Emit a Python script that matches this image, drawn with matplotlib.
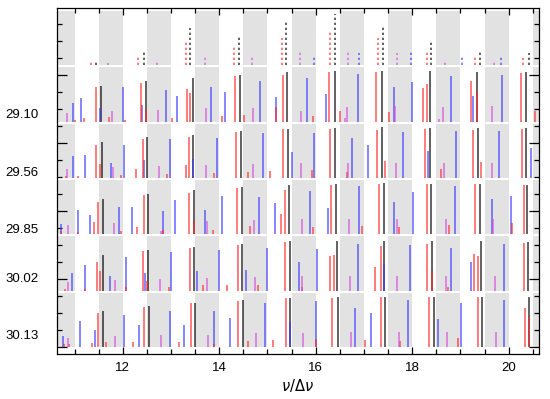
import matplotlib
matplotlib.use("Agg")
import matplotlib.pyplot as plt
import matplotlib.transforms as mtransforms
from matplotlib.ticker import MultipleLocator
import numpy as np

plt.rcParams['font.family'] = ['Liberation Sans', 'DejaVu Sans']
plt.rcParams['mathtext.fontset'] = 'dejavusans'

# row labels, bottom to top (top row is the unlabeled reference spectrum)
row_labels = ['30.13', '30.02', '29.85', '29.56', '29.10', '']
row_step = 56.4
band_height = 54.5

# each row: list of (nu/dnu, height) per colour
black = [
    [(11.60, 36), (12.54, 41), (13.50, 44), (14.49, 47), (15.47, 49), (16.46, 50), (17.44, 50), (18.45, 50), (19.45, 50), (20.43, 50)],
    [(11.59, 36), (12.52, 41), (13.48, 44), (14.47, 47), (15.46, 50), (16.44, 50), (17.42, 50), (18.42, 50), (19.42, 50), (20.41, 49)],
    [(11.58, 35), (12.52, 40), (13.47, 44), (14.47, 47), (15.45, 49), (16.42, 50), (17.41, 51), (18.40, 50), (19.40, 50), (20.39, 49)],
    [(11.56, 36), (12.50, 41), (13.46, 43), (14.45, 47), (15.43, 49), (16.40, 50), (17.38, 51), (18.38, 50), (19.37, 50), (20.36, 50)],
    [(11.54, 36), (12.48, 41), (13.46, 44), (14.43, 47), (15.41, 50), (16.39, 51), (17.37, 51), (18.36, 51), (19.34, 50), (20.36, 50)],
    [(11.44, 5), (12.43, 13), (13.40, 37), (14.40, 29), (15.39, 45), (16.39, 51), (17.39, 40), (18.39, 24), (19.40, 15), (20.42, 12)],
]
blue = [
    [(10.77, 11), (11.11, 26), (11.42, 17), (12.02, 32), (12.34, 22), (12.97, 36), (13.27, 22), (13.90, 36), (14.22, 29),
     (14.95, 44), (15.47, 25), (16.00, 46), (16.82, 39), (17.15, 34), (17.91, 47), (18.54, 28), (19.01, 44), (19.90, 47)],
    [(10.94, 18), (11.22, 26), (11.74, 15), (12.07, 34), (12.47, 18), (13.01, 39), (13.53, 20), (14.00, 41), (14.56, 21),
     (14.98, 43), (15.65, 29), (16.03, 42), (16.87, 47), (17.42, 27), (17.96, 46), (18.80, 43), (19.22, 29), (19.91, 47)],
    [(10.71, 10), (11.07, 24), (11.32, 19), (11.93, 27), (12.20, 27), (12.83, 23), (13.08, 34), (13.71, 24), (14.05, 38),
     (14.83, 37), (15.16, 31), (15.88, 43), (16.25, 26), (16.90, 48), (17.62, 32), (18.02, 42), (18.88, 48), (19.66, 35), (20.05, 38)],
    [(10.96, 22), (11.22, 23), (11.75, 15), (12.03, 33), (12.45, 18), (12.98, 39), (13.46, 19), (13.95, 40), (14.91, 45),
     (15.50, 26), (15.96, 45), (16.75, 40), (17.09, 33), (17.82, 46), (18.33, 27), (18.91, 47), (19.80, 47), (20.46, 30)],
    [(10.96, 19), (11.14, 24), (11.53, 14), (12.01, 35), (12.40, 17), (12.90, 32), (13.13, 26), (13.82, 35), (14.12, 30),
     (14.85, 41), (15.17, 25), (15.82, 44), (16.21, 28), (16.87, 48), (17.62, 35), (17.99, 40), (18.80, 46), (19.27, 26), (19.87, 47)],
    [(15.97, 8), (16.90, 12), (17.97, 15), (19.03, 8), (19.84, 8)],
]
red = [
    [(10.79, 3), (10.89, 3), (11.36, 4), (11.49, 34), (11.65, 5), (12.22, 5), (12.44, 40), (13.17, 5), (13.41, 44), (13.89, 3),
     (14.38, 46), (14.60, 6), (15.12, 7), (15.38, 49), (16.01, 8), (16.34, 49), (17.02, 7), (17.35, 50), (17.75, 6), (18.34, 50),
     (18.96, 9), (19.36, 50), (20.33, 39), (20.43, 30)],
    [(10.80, 2), (11.21, 2), (11.47, 29), (11.52, 20), (12.07, 4), (12.42, 40), (12.51, 10), (12.95, 4), (13.39, 43), (13.67, 6),
     (14.17, 6), (14.38, 46), (14.81, 6), (15.36, 49), (15.71, 4), (16.30, 35), (16.37, 36), (17.23, 24), (17.35, 45), (18.30, 47),
     (18.42, 20), (18.75, 4), (19.28, 37), (19.37, 35), (20.32, 48)],
    [(10.72, 3), (11.08, 2), (11.41, 12), (11.48, 32), (11.96, 3), (12.30, 7), (12.43, 39), (12.84, 4), (13.37, 41), (13.47, 13),
     (13.87, 4), (14.37, 46), (14.63, 8), (15.28, 20), (15.36, 44), (15.94, 7), (16.32, 49), (16.95, 8), (17.31, 50), (17.73, 7),
     (18.30, 50), (18.76, 9), (19.30, 50), (20.06, 11), (20.32, 49)],
    [(10.82, 2), (11.07, 2), (11.45, 33), (11.52, 14), (11.96, 3), (12.27, 9), (12.41, 39), (12.91, 4), (13.31, 13), (13.37, 41),
     (13.89, 5), (14.34, 46), (14.59, 6), (15.05, 7), (15.33, 49), (15.93, 8), (16.30, 49), (16.65, 6), (17.28, 48), (17.44, 17),
     (18.26, 49), (18.59, 9), (19.27, 48), (19.43, 16), (20.27, 49)],
    [(11.00, 2), (11.20, 4), (11.44, 35), (11.72, 5), (12.05, 2), (12.37, 39), (12.48, 12), (13.03, 4), (13.33, 33), (13.39, 29),
     (14.06, 6), (14.33, 46), (14.51, 7), (15.17, 15), (15.32, 47), (15.94, 6), (16.28, 50), (16.50, 11), (17.26, 50), (17.53, 10),
     (18.22, 34), (18.30, 38), (19.22, 41), (19.34, 30), (20.25, 49), (20.55, 11)],
    [(11.34, 3), (12.32, 9), (13.31, 23), (14.31, 19), (15.30, 27), (16.29, 33), (17.29, 27), (18.31, 15), (19.30, 8), (20.30, 7)],
]
magenta = [
    [(10.87, 9), (11.84, 11), (12.79, 12), (13.76, 12), (14.76, 14), (15.74, 14), (16.74, 15), (17.73, 15), (18.72, 15), (19.73, 15)],
    [(10.87, 9), (11.83, 11), (12.77, 12), (13.75, 13), (14.74, 14), (15.72, 15), (16.71, 15), (17.69, 15), (18.70, 15), (19.71, 15)],
    [(10.86, 9), (11.82, 11), (12.79, 3), (13.75, 13), (14.73, 14), (15.71, 15), (16.69, 15), (17.68, 15), (18.70, 15), (19.68, 15)],
    [(10.85, 9), (11.80, 11), (12.76, 12), (13.73, 13), (14.71, 14), (15.69, 15), (16.66, 15), (17.66, 15), (18.66, 15), (19.66, 15)],
    [(10.84, 9), (11.78, 11), (12.74, 12), (13.72, 14), (14.70, 14), (15.69, 11), (16.61, 4), (16.65, 15), (17.64, 16),
     (18.56, 3), (18.64, 15), (19.65, 16)],
    [(11.70, 2), (12.70, 4), (13.70, 8), (14.67, 8), (15.67, 13), (16.68, 15), (17.68, 12), (18.68, 5), (19.69, 5)],
]

# label offset above each row baseline
label_dy = [11.3, 11.6, 4.2, 5.1, 6.4]

fig = plt.figure(figsize=(5.5, 3.99), dpi=100)
ax = fig.add_axes([0.1031, 0.1128, 0.8769, 0.8664])
ax.set_xlim(10.63, 20.63)
ax.set_ylim(-6.7, 339.0)

colours = [('black', black, 0.72), ('#3c3cff', blue, 0.72), ('#ff2a2a', red, 0.72), ('#d84fe0', magenta, 0.72)]
nrows = len(row_labels)
for i in range(nrows):
    base = i * row_step
    for n in range(10, 21):
        ax.add_patch(plt.Rectangle((n + 0.5, base), 0.5, band_height, color='#e2e2e2', lw=0, zorder=0))
    top_row = (i == nrows - 1)
    for c, data, a in colours:
        pts = np.array(data[i])
        ls = (0, (1.4, 1.6)) if top_row else '-'
        ax.vlines(pts[:, 0], base, base + pts[:, 1], colors=c, alpha=a, lw=1.2, linestyles=ls, zorder=2)

trans = mtransforms.blended_transform_factory(ax.transAxes, ax.transData)
for i, lab in enumerate(row_labels[:-1]):
    ax.text(-0.038, i * row_step + label_dy[i], lab, transform=trans, ha='right', va='center', fontsize=9.5)

ax.xaxis.set_major_locator(MultipleLocator(2))
ax.xaxis.set_minor_locator(MultipleLocator(0.5))
ax.yaxis.set_major_locator(MultipleLocator(68))
ax.yaxis.set_minor_locator(MultipleLocator(17))
ax.tick_params(which='both', direction='in', top=True, right=True, width=0.9)
ax.tick_params(which='major', axis='x', length=5, labelsize=9.5, pad=6)
ax.tick_params(which='minor', axis='x', length=3.5)
ax.tick_params(which='major', axis='y', length=7, labelleft=False)
ax.tick_params(which='minor', axis='y', length=3.5)
for s in ax.spines.values():
    s.set_linewidth(0.9)

ax.set_xlabel(r'$\nu/\Delta\nu$', fontsize=10.5, labelpad=2)

fig.savefig('out.png', dpi=100)
